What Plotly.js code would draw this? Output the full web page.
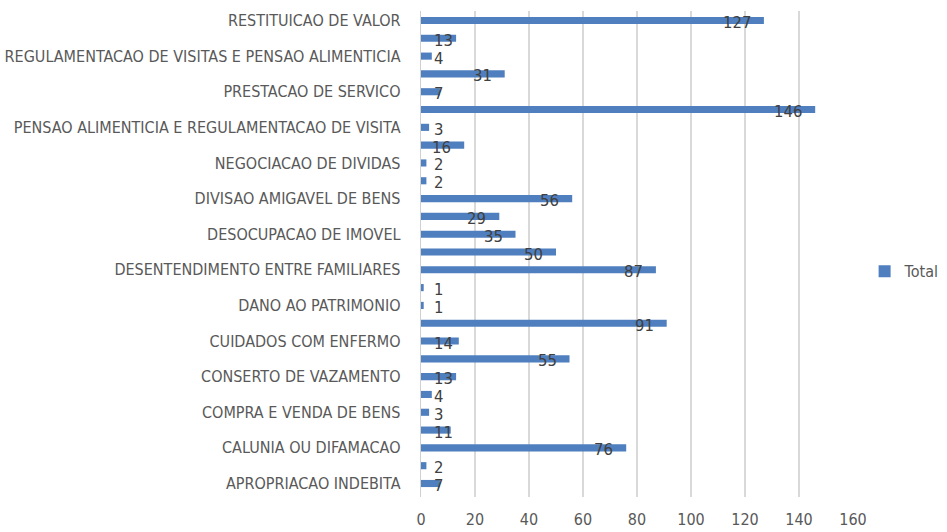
<!DOCTYPE html>
<html>
<head>
<meta charset="utf-8">
<script src="https://cdn.plot.ly/plotly-3.0.1.min.js"></script>
<style>
  html, body { margin: 0; padding: 0; background: #ffffff; }
  #chart { width: 947px; height: 532px; }
</style>
</head>
<body>
<div id="chart"></div>
<script>
// Case types, alphabetical (first one sits at the bottom of the axis)
const categories = [
  "APROPRIACAO INDEBITA",
  "ATRASO DE PAGAMENTO",
  "CALUNIA OU DIFAMACAO",
  "COBRANCA INDEVIDA",
  "COMPRA E VENDA DE BENS",
  "CONFLITO ENTRE VIZINHOS",
  "CONSERTO DE VAZAMENTO",
  "CONVIVENCIA FAMILIAR",
  "CUIDADOS COM ENFERMO",
  "CUSTEIO DE DESPESAS",
  "DANO AO PATRIMONIO",
  "DANOS MORAIS",
  "DESENTENDIMENTO ENTRE FAMILIARES",
  "DESENTENDIMENTO ENTRE VIZINHOS",
  "DESOCUPACAO DE IMOVEL",
  "DISSOLUCAO DE UNIAO ESTAVEL",
  "DIVISAO AMIGAVEL DE BENS",
  "GUARDA DE MENORES",
  "NEGOCIACAO DE DIVIDAS",
  "PAGAMENTO DE ALUGUEL",
  "PENSAO ALIMENTICIA E REGULAMENTACAO DE VISITA",
  "PERTURBACAO DO SOSSEGO",
  "PRESTACAO DE SERVICO",
  "RECONHECIMENTO DE PATERNIDADE",
  "REGULAMENTACAO DE VISITAS E PENSAO ALIMENTICIA",
  "REPARACAO DE DANOS",
  "RESTITUICAO DE VALOR"
];

// Number of cases per type
const totals = [7, 2, 76, 11, 3, 4, 13, 55, 14, 91, 1, 1, 87, 50, 35, 29, 56, 2, 2, 16, 3, 146, 7, 31, 4, 13, 127];

// Only every other category name is printed on the axis
const shownLabels = categories.filter((c, i) => i % 2 === 0);

// Value axis ticks
const xTicks = [0, 20, 40, 60, 80, 100, 120, 140, 160];

const W = 947, H = 532;
const margin = { l: 421, r: 94, t: 11, b: 35, pad: 0 };
const xMax = 160;
const pxPerUnit = (W - margin.l - margin.r) / xMax;

const fontFamily = '"DejaVu Sans Condensed", "Liberation Sans Narrow", "Arial Narrow", sans-serif';
const textColor = '#404040';
const axisTextColor = '#595959';
const barColor = '#4F7FBE';

// Data labels: right edge just inside the bar end; short bars keep the label near the axis
const labelFontSize = 16.5;
const annotations = totals.map((v, i) => {
  const txt = String(v);
  const estWidth = txt.length * labelFontSize * 0.56;
  const inside = v * pxPerUnit - 11 - estWidth >= 11;
  return {
    x: inside ? v : 0,
    y: categories[i],
    xref: 'x', yref: 'y',
    text: txt,
    showarrow: false,
    xanchor: inside ? 'right' : 'left',
    xshift: 11 * (inside ? -1 : 1),
    yshift: -2,
    font: { family: fontFamily, size: labelFontSize, color: textColor }
  };
});

const trace = {
  type: 'bar',
  orientation: 'h',
  name: 'Total',
  x: totals,
  y: categories,
  marker: { color: barColor },
  hoverinfo: 'x+y'
};

const layout = {
  width: W,
  height: H,
  margin: margin,
  paper_bgcolor: '#ffffff',
  plot_bgcolor: '#ffffff',
  bargap: 0.6,
  font: { family: fontFamily, color: textColor, size: 16 },
  xaxis: {
    range: [0, xMax],
    tickvals: xTicks,
    ticktext: xTicks.map(String),
    showgrid: true,
    gridcolor: '#d9d9d9',
    gridwidth: 1.3,
    zeroline: false,
    showline: false,
    ticks: '',
    ticklabelstandoff: 11,
    tickfont: { family: fontFamily, size: 16, color: axisTextColor },
    fixedrange: true
  },
  yaxis: {
    type: 'category',
    categoryorder: 'array',
    categoryarray: categories,
    tickvals: shownLabels,
    ticktext: shownLabels,
    showgrid: false,
    zeroline: false,
    showline: true,
    linecolor: '#d0d0d0',
    linewidth: 1.3,
    ticks: '',
    ticklabelstandoff: 16,
    tickfont: { family: fontFamily, size: 16, color: axisTextColor },
    fixedrange: true
  },
  showlegend: true,
  legend: {
    xref: 'container',
    yref: 'container',
    x: 0.913,
    xanchor: 'left',
    y: 0.49,
    yanchor: 'middle',
    font: { family: fontFamily, size: 16, color: axisTextColor },
    itemwidth: 30,
    bgcolor: 'rgba(0,0,0,0)'
  },
  annotations: annotations
};

Plotly.newPlot('chart', [trace], layout, { displayModeBar: false, staticPlot: true });
</script>
</body>
</html>
